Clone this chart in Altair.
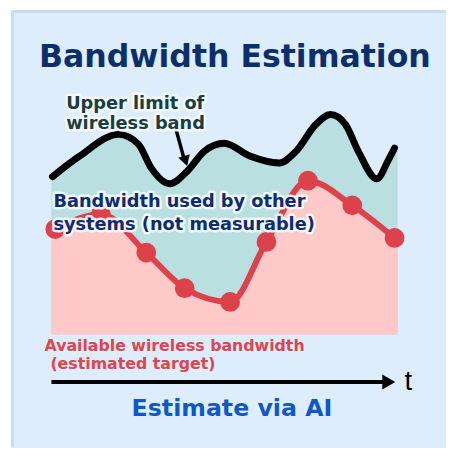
import altair as alt
import pandas as pd

# ---- text content ----
TITLE = "Bandwidth Estimation"
UPPER_LABEL = "Upper limit of\nwireless band"
OTHER_LABEL = "Bandwidth used by other\nsystems (not measurable)"
AVAIL_LABEL_1 = "Available wireless bandwidth"
AVAIL_LABEL_2 = "(estimated target)"
AXIS_LABEL = "t"
FOOTER = "Estimate via AI"

# ---- series (time 0..10, bandwidth 0..100) ----
upper_t = [0.03, 0.80, 1.94, 2.51, 2.88, 3.42, 3.93, 4.42, 4.99, 5.73,
           6.58, 7.07, 7.64, 8.06, 8.49, 8.86, 9.40, 9.72, 9.91]
upper_v = [67.8, 76.5, 86.0, 81.8, 71.6, 64.8, 70.3, 78.8, 82.2, 76.7,
           73.7, 78.8, 90.3, 94.5, 90.3, 78.8, 66.9, 74.6, 80.1]
avail_t = [0.11, 1.43, 2.74, 3.85, 5.16, 6.21, 7.41, 8.69, 9.91]
avail_v = [45.3, 51.7, 35.2, 19.9, 14.0, 39.8, 66.1, 55.5, 41.5]

T_DOMAIN = [0, 10]
V_DOMAIN = [0, 100]

upper_df = pd.DataFrame({"t": upper_t, "v": upper_v})
avail_df = pd.DataFrame({"t": avail_t, "v": avail_v})
upper_area_df = pd.DataFrame({"t": [T_DOMAIN[0]] + upper_t + [T_DOMAIN[1]],
                              "v": [upper_v[0]] + upper_v + [upper_v[-1]]})
avail_area_df = pd.DataFrame({"t": [T_DOMAIN[0]] + avail_t + [T_DOMAIN[1]],
                              "v": [avail_v[0]] + avail_v + [avail_v[-1]]})

W, H = 444, 443
xs = alt.Scale(domain=T_DOMAIN, range=[44, 395])
ys = alt.Scale(domain=V_DOMAIN, range=[328, 92])
X = alt.X("t:Q", scale=xs, axis=None)
Y = alt.Y("v:Q", scale=ys, axis=None)

one = pd.DataFrame({"k": [0]})
FONT = "DejaVu Sans"

panel_shadow = alt.Chart(one).mark_rect(color="#c9dbf2", cornerRadius=2).encode(
    x=alt.value(3), x2=alt.value(W), y=alt.value(-1), y2=alt.value(H))
panel = alt.Chart(one).mark_rect(color="#deedfb").encode(
    x=alt.value(6), x2=alt.value(W), y=alt.value(2), y2=alt.value(H))

teal = alt.Chart(upper_area_df).mark_area(color="#b9dfe1", interpolate="monotone").encode(
    x=X, y=Y, y2=alt.datum(0))
pink = alt.Chart(avail_area_df).mark_area(color="#ffc9c8", interpolate="monotone").encode(
    x=X, y=Y, y2=alt.datum(0))
upper_line = alt.Chart(upper_df).mark_line(color="#000000", strokeWidth=7,
                                           interpolate="monotone", strokeCap="round").encode(x=X, y=Y)
avail_line = alt.Chart(avail_df).mark_line(color="#dd414a", strokeWidth=6,
                                           interpolate="monotone", strokeCap="round").encode(x=X, y=Y)
avail_pts = alt.Chart(avail_df).mark_circle(color="#dd414a", size=400, opacity=1).encode(x=X, y=Y)


def label(text, x, y, size, color, align="left", lh=None, halo=False, font=FONT, weight="bold"):
    df = pd.DataFrame({"label": [text]})
    kw = dict(align=align, baseline="alphabetic", fontSize=size, font=font,
              fontWeight=weight, lineBreak="\n")
    if lh:
        kw["lineHeight"] = lh
    layers = []
    if halo:
        layers.append(alt.Chart(df).mark_text(color="#ffffff", stroke="#f4fbff", strokeWidth=5,
                                              strokeJoin="round", opacity=0.9, **kw).encode(
            x=alt.value(x), y=alt.value(y), text="label:N"))
    layers.append(alt.Chart(df).mark_text(color=color, **kw).encode(
        x=alt.value(x), y=alt.value(y), text="label:N"))
    return layers


title = label(TITLE, 230, 57, 32, "#0c2f6a", align="center")
upper_lbl = label(UPPER_LABEL, 59, 99, 18, "#1c3d3e", lh=21, halo=True)
other_lbl = label(OTHER_LABEL, 46, 199, 18, "#102c6c", lh=23, halo=True)
avail_lbl = (label(AVAIL_LABEL_1, 37, 345, 16, "#e0444e")
             + label(AVAIL_LABEL_2, 43, 363, 16, "#e0444e"))
t_lbl = label(AXIS_LABEL, 402, 384, 28, "#000000", font="Liberation Sans", weight="normal")
footer = label(FOOTER, 227, 411, 24, "#1158c6", align="center")

arrow_shaft = alt.Chart(one).mark_rule(color="#000000", strokeWidth=3.5).encode(
    x=alt.value(170), y=alt.value(119), x2=alt.value(178), y2=alt.value(148))
arrow_head = alt.Chart(one).mark_point(shape="triangle-down", filled=True, color="#000000",
                                       size=150, angle=343, opacity=1).encode(
    x=alt.value(180), y=alt.value(152))

t_shaft = alt.Chart(one).mark_rule(color="#000000", strokeWidth=4).encode(
    x=alt.value(44), x2=alt.value(384), y=alt.value(376))
t_head = alt.Chart(one).mark_point(shape="triangle-right", filled=True, color="#000000",
                                   size=230, opacity=1).encode(
    x=alt.value(386), y=alt.value(376))

layers = [panel_shadow, panel, teal, pink, upper_line, avail_line, avail_pts,
          arrow_shaft, arrow_head, t_shaft, t_head] + title + upper_lbl + other_lbl + avail_lbl + t_lbl + footer

chart = alt.layer(*layers).properties(
    width=W, height=H, padding=0, autosize=alt.AutoSizeParams(type="none"),
    background="#ffffff"
).configure_view(stroke=None)

chart.save("out.html", embed_options={"renderer": "svg", "actions": False})
